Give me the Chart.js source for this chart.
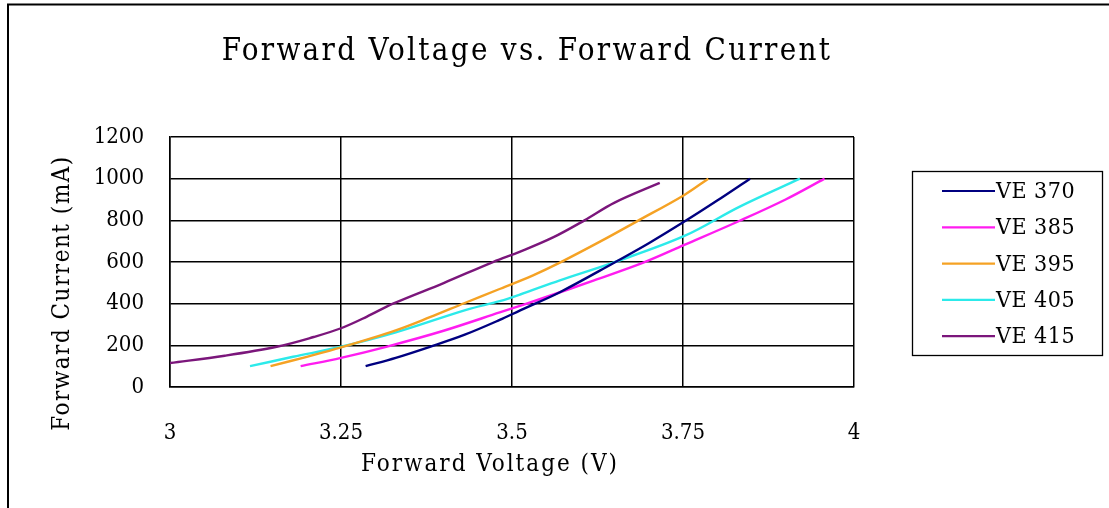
<!DOCTYPE html>
<html>
<head>
<meta charset="utf-8">
<script src="https://cdn.jsdelivr.net/npm/chart.js@4.4.1/dist/chart.umd.min.js"></script>
<style>
  html, body { margin: 0; padding: 0; background: #fff; }
  #wrap { width: 1109px; height: 508px; }
</style>
</head>
<body>
<div id="wrap"><canvas id="ivChart" width="1109" height="508"></canvas></div>
<script>
// series names and colours
const seriesNames = ['VE 370', 'VE 385', 'VE 395', 'VE 405', 'VE 415'];
const seriesColors = ['#000080', '#FF1CF0', '#F5A224', '#2CEAEA', '#7B167B'];

// voltage (V) / current (mA)
const ve370V = [3.286, 3.33, 3.38, 3.43, 3.482, 3.512, 3.57, 3.648, 3.70, 3.752, 3.80, 3.848];
const ve370I = [100, 140, 193, 250, 322, 368, 455, 594, 690, 794, 895, 1000];

const ve385V = [3.191, 3.25, 3.316, 3.40, 3.482, 3.55, 3.62, 3.692, 3.752, 3.833, 3.90, 3.957];
const ve385I = [100, 140, 193, 270, 358, 432, 512, 597, 682, 798, 900, 1000];

const ve395V = [3.147, 3.20, 3.25, 3.33, 3.38, 3.43, 3.48, 3.53, 3.57, 3.63, 3.682, 3.752, 3.787];
const ve395I = [100, 145, 190, 272, 335, 402, 468, 535, 597, 700, 794, 922, 1000];

const ve405V = [3.117, 3.18, 3.25, 3.33, 3.433, 3.482, 3.512, 3.57, 3.648, 3.752, 3.833, 3.921];
const ve405I = [100, 145, 193, 262, 370, 412, 444, 512, 597, 725, 866, 1000];

const ve415V = [3.0, 3.08, 3.156, 3.21, 3.25, 3.288, 3.326, 3.40, 3.473, 3.512, 3.56, 3.606, 3.65, 3.716];
const ve415I = [115, 150, 193, 240, 282, 338, 400, 499, 601, 650, 718, 800, 885, 980];

// axis ticks
const xTicks = [3, 3.25, 3.5, 3.75, 4];
const yTicks = [0, 200, 400, 600, 800, 1000, 1200];

const FONT = "'DejaVu Serif Condensed', 'DejaVu Serif', serif";

function toPoints(xs, ys) {
  return xs.map((x, i) => ({ x: x, y: ys[i] }));
}

const allV = [ve370V, ve385V, ve395V, ve405V, ve415V];
const allI = [ve370I, ve385I, ve395I, ve405I, ve415I];

const datasets = seriesNames.map((name, i) => ({
  label: name,
  data: toPoints(allV[i], allI[i]),
  borderColor: seriesColors[i],
  backgroundColor: seriesColors[i],
  borderWidth: 2.4,
  pointRadius: 0,
  tension: 0.35,
  fill: false
}));

// frame, titles and boxed legend like the original sheet
const decorPlugin = {
  id: 'decor',
  afterDraw(chart) {
    const ctx = chart.ctx;
    ctx.save();

    ctx.strokeStyle = '#000';
    ctx.lineWidth = 2;
    ctx.beginPath();
    ctx.moveTo(8, 508);
    ctx.lineTo(8, 4.5);
    ctx.lineTo(1109, 4.5);
    ctx.stroke();

    ctx.fillStyle = '#000';
    ctx.textAlign = 'center';
    ctx.textBaseline = 'middle';

    ctx.letterSpacing = '2.3px';
    ctx.font = "31px " + FONT;
    ctx.fillText('Forward Voltage vs. Forward Current', 527, 52);

    ctx.letterSpacing = '2px';
    ctx.font = "24px " + FONT;
    ctx.fillText('Forward Voltage (V)', 490, 465);

    ctx.letterSpacing = '1.5px';
    ctx.save();
    ctx.translate(63, 293);
    ctx.rotate(-Math.PI / 2);
    ctx.fillText('Forward Current (mA)', 0, 0);
    ctx.restore();

    // legend box
    ctx.letterSpacing = '0.5px';
    const bx = 912, by = 171, bw = 190, bh = 184;
    ctx.lineWidth = 1.3;
    ctx.strokeRect(bx + 0.5, by + 0.5, bw, bh);
    ctx.font = "23px " + FONT;
    ctx.textAlign = 'left';
    chart.data.datasets.forEach((ds, i) => {
      const y = 191 + i * 36.3;
      ctx.strokeStyle = ds.borderColor;
      ctx.lineWidth = 2.2;
      ctx.beginPath();
      ctx.moveTo(942, y);
      ctx.lineTo(995, y);
      ctx.stroke();
      ctx.fillStyle = '#000';
      ctx.fillText(ds.label, 996, y + 1);
    });

    ctx.restore();
  }
};

new Chart(document.getElementById('ivChart'), {
  type: 'line',
  data: { datasets: datasets },
  options: {
    responsive: false,
    animation: false,
    layout: { padding: { top: 137, left: 0, right: 255, bottom: 0 } },
    plugins: {
      legend: { display: false },
      title: { display: false },
      tooltip: { enabled: false }
    },
    scales: {
      x: {
        type: 'linear',
        min: 3,
        max: 4,
        afterFit: s => { s.height = 121; },
        afterBuildTicks: s => { s.ticks = xTicks.map(v => ({ value: v })); },
        grid: { color: '#000', lineWidth: 1.5, drawTicks: false },
        border: { color: '#000', width: 1.5 },
        ticks: {
          color: '#000',
          padding: 33,
          maxRotation: 0,
          font: { family: FONT, size: 22 },
          callback: v => String(v)
        }
      },
      y: {
        type: 'linear',
        min: 0,
        max: 1200,
        afterFit: s => { s.width = 170; },
        afterBuildTicks: s => { s.ticks = yTicks.map(v => ({ value: v })); },
        grid: { color: '#000', lineWidth: 1.5, drawTicks: false },
        border: { color: '#000', width: 1.5 },
        ticks: {
          color: '#000',
          padding: 26,
          font: { family: FONT, size: 22 },
          callback: v => String(v)
        }
      }
    }
  },
  plugins: [decorPlugin]
});
</script>
</body>
</html>
